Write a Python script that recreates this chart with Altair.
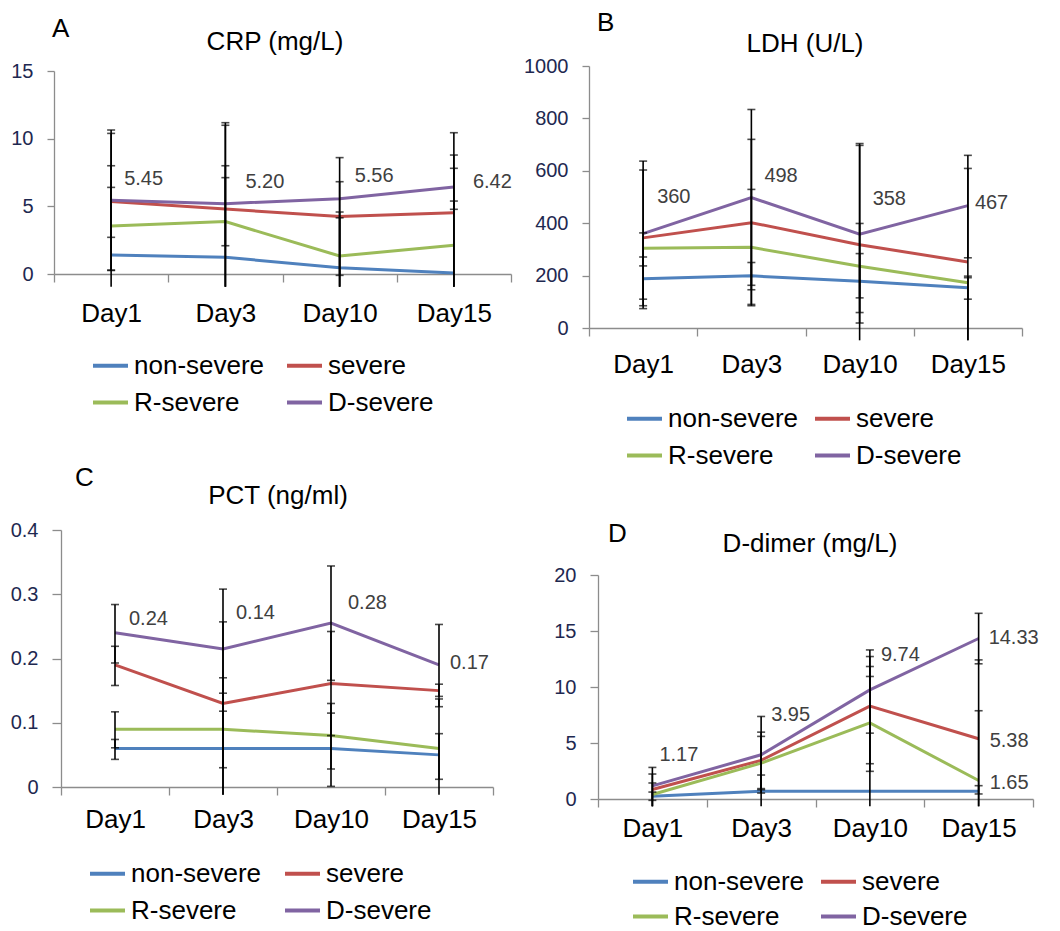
import altair as alt
import pandas as pd

days = ["Day1", "Day3", "Day10", "Day15"]
series = ["non-severe", "severe", "R-severe", "D-severe"]
colors = ["#4F81BD", "#C0504D", "#9BBB59", "#8064A2"]

# ---------------- A: CRP (mg/L) ----------------
crp_mean = {
    "non-severe": [1.40, 1.23, 0.47, 0.07],
    "severe": [5.36, 4.80, 4.24, 4.53],
    "R-severe": [3.55, 3.87, 1.33, 2.12],
    "D-severe": [5.45, 5.20, 5.56, 6.42],
}
crp_lo = {  # None = error bar runs past the axis
    "non-severe": [None, None, None, None],
    "severe": [0.29, None, -0.10, None],
    "R-severe": [2.71, 2.09, None, None],
    "D-severe": [0.26, None, None, 4.78],
}
crp_hi = {
    "non-severe": [6.40, 8.00, 4.15, 5.39],
    "severe": [10.39, 10.99, 6.82, 8.79],
    "R-severe": [8.00, 7.12, 4.58, 7.81],
    "D-severe": [10.64, 11.18, 8.60, 10.44],
}
crp_floor = -0.94
crp_ticks = [0, 5, 10, 15]
crp_labels = [("D-severe", "Day1", "5.45"), ("D-severe", "Day3", "5.20"),
              ("D-severe", "Day10", "5.56"), ("D-severe", "Day15", "6.42")]

# ---------------- B: LDH (U/L) ----------------
ldh_mean = {
    "non-severe": [188, 199, 178, 154],
    "severe": [344, 402, 318, 252],
    "R-severe": [304, 308, 236, 173],
    "D-severe": [360, 498, 358, 467],
}
ldh_lo = {
    "non-severe": [110, 146, 115, 110],
    "severe": [85, 85, None, None],
    "R-severe": [237, 90, 59, None],
    "D-severe": [74, 163, 19, 268],
}
ldh_hi = {
    "non-severe": [271, 250, 284, 198],
    "severe": [603, 720, 697, 609],
    "R-severe": [363, 529, 399, 192],
    "D-severe": [637, 834, 704, 659],
}
ldh_floor = -47
ldh_ticks = [0, 200, 400, 600, 800, 1000]
ldh_labels = [("D-severe", "Day1", "360"), ("D-severe", "Day3", "498"),
              ("D-severe", "Day10", "358"), ("D-severe", "Day15", "467")]

# ---------------- C: PCT (ng/ml) ----------------
pct_mean = {
    "non-severe": [0.06, 0.06, 0.06, 0.05],
    "severe": [0.19, 0.13, 0.161, 0.15],
    "R-severe": [0.09, 0.09, 0.08, 0.06],
    "D-severe": [0.24, 0.215, 0.255, 0.19],
}
pct_lo = {
    "non-severe": [0.043, None, 0.001, 0.012],
    "severe": [0.158, None, 0.080, 0.141],
    "R-severe": [0.061, 0.030, 0.028, None],
    "D-severe": [0.193, 0.118, 0.166, 0.125],
}
pct_hi = {
    "non-severe": [0.074, 0.170, 0.115, 0.083],
    "severe": [0.219, 0.257, 0.242, 0.160],
    "R-severe": [0.117, 0.146, 0.130, 0.137],
    "D-severe": [0.284, 0.308, 0.344, 0.253],
}
pct_floor = -0.012
pct_ticks = [0, 0.1, 0.2, 0.3, 0.4]
pct_labels = [("D-severe", "Day1", "0.24"), ("D-severe", "Day3", "0.14"),
              ("D-severe", "Day10", "0.28"), ("D-severe", "Day15", "0.17")]

# ---------------- D: D-dimer (mg/L) ----------------
dd_mean = {
    "non-severe": [0.25, 0.70, 0.70, 0.70],
    "severe": [0.85, 3.45, 8.30, 5.38],
    "R-severe": [0.40, 3.20, 6.80, 1.65],
    "D-severe": [1.17, 3.95, 9.74, 14.33],
}
dd_lo = {
    "non-severe": [-0.12, None, None, 0.45],
    "severe": [None, 0.93, 3.15, None],
    "R-severe": [None, 0.83, 2.47, None],
    "D-severe": [None, 0.53, 5.88, 12.07],
}
dd_hi = {
    "non-severe": [0.62, 2.14, 10.94, 1.19],
    "severe": [2.23, 5.97, 12.72, 12.42],
    "R-severe": [1.43, 5.59, 11.83, 7.88],
    "D-severe": [2.82, 7.37, 13.31, 16.58],
}
dd_floor = -0.65
dd_ticks = [0, 5, 10, 15, 20]
dd_labels = [("D-severe", "Day1", "1.17"), ("D-severe", "Day3", "3.95"),
             ("D-severe", "Day10", "9.74"), ("D-severe", "Day15", "14.33"),
             ("severe", "Day15", "5.38"), ("R-severe", "Day15", "1.65")]

# ---------------- styling / layout ----------------
FONT = "Liberation Sans"
AX = "#8c8c8c"
NAVY = "#1e2850"
W, H = 520, 455

geo_A = dict(L=46, R=503, T=63, B=266, ytick=7, xlabpad=18, title=(267, 34), letter=(44, 21),
             legend=(83, 338), colpad=14, rowpad=4,
             offs=[(13, -21), (20, -22), (15, -23), (19, -5)])
geo_B = dict(L=61, R=494, T=58, B=320, ytick=7, xlabpad=15, title=(277, 36), letter=(69, 15),
             legend=(97, 391), colpad=8, rowpad=4,
             offs=[(14, -37), (13, -22), (13, -35), (7, -3)])
geo_C = dict(L=53, R=485, T=67, B=324, ytick=9, xlabpad=11, title=(270, 33), letter=(67, 15),
             legend=(80, 391), colpad=15, rowpad=4,
             offs=[(14, -14), (13, -36), (17, -20), (11, -2)])
geo_D = dict(L=70, R=505, T=112, B=336, ytick=8, xlabpad=8, title=(282, 81), letter=(80, 71),
             legend=(103, 399), colpad=8, rowpad=2,
             offs=[(7, -31), (10, -40), (11, -35), (10, -1), (11, 2), (11, 2)])


def make_panel(letter, title, mean, lo, hi, floor, ticks, labels, g):
    rows = []
    for s in series:
        for i, d in enumerate(days):
            l = lo[s][i]
            rows.append({"series": s, "day": d, "value": mean[s][i],
                         "lo": floor if l is None else l, "hi": hi[s][i],
                         "locap": l is not None})
    df = pd.DataFrame(rows)

    xs = alt.Scale(type="band", domain=days, range=[g["L"], g["R"]],
                   paddingInner=0, paddingOuter=0)
    xa = alt.Axis(title=None, orient="bottom", offset=g["B"] - H, tickBand="extent",
                  tickSize=8, labelPadding=g["xlabpad"], labelAngle=0, labelFontSize=26,
                  labelColor="black", domainColor=AX, tickColor=AX, domainWidth=1.3,
                  tickWidth=1.3, grid=False)
    ys = alt.Scale(domain=[ticks[0], ticks[-1]], range=[g["B"], g["T"]], nice=False, zero=False)
    ya = alt.Axis(title=None, values=ticks, format="~r", offset=-g["L"], tickSize=g["ytick"],
                  labelPadding=14, labelFontSize=20, labelColor=NAVY, domainColor=AX,
                  tickColor=AX, domainWidth=1.3, tickWidth=1.3, grid=False)

    def X():
        return alt.X("day:N", sort=days, scale=xs, axis=xa)

    def Y(f):
        return alt.Y(f, scale=ys, axis=ya)

    lines = alt.Chart(df).mark_line(strokeWidth=3).encode(
        x=X(), y=Y("value:Q"),
        color=alt.Color("series:N", scale=alt.Scale(domain=series, range=colors),
                        legend=alt.Legend(orient="none", legendX=g["legend"][0],
                                          legendY=g["legend"][1], columns=2,
                                          direction="horizontal", title=None,
                                          symbolType="stroke", symbolStrokeWidth=4,
                                          symbolSize=1225, labelFontSize=26,
                                          labelColor="black", labelOffset=4,
                                          columnPadding=g["colpad"], rowPadding=g["rowpad"],
                                          padding=0)),
    )
    rules = alt.Chart(df).mark_rule(color="black", strokeWidth=1.6).encode(
        x=X(), y=Y("lo:Q"), y2="hi:Q")
    caps_hi = alt.Chart(df).mark_tick(color="black", size=8, thickness=1.6).encode(
        x=X(), y=Y("hi:Q"))
    caps_lo = alt.Chart(df).transform_filter("datum.locap").mark_tick(
        color="black", size=8, thickness=1.6).encode(x=X(), y=Y("lo:Q"))

    label_layers = []
    for (s, d, t), (dx, dy) in zip(labels, g["offs"]):
        ldf = pd.DataFrame([{"day": d, "value": mean[s][days.index(d)], "t": t}])
        label_layers.append(
            alt.Chart(ldf).mark_text(align="left", baseline="middle", dx=dx, dy=dy,
                                     fontSize=20, color="#404040").encode(
                x=X(), y=Y("value:Q"), text="t:N"))

    title_t = alt.Chart(pd.DataFrame({"t": [title]})).mark_text(
        align="center", baseline="middle", fontSize=26, color="black").encode(
        text="t:N", x=alt.value(g["title"][0]), y=alt.value(g["title"][1]))
    letter_t = alt.Chart(pd.DataFrame({"t": [letter]})).mark_text(
        align="left", baseline="middle", fontSize=26, color="black").encode(
        text="t:N", x=alt.value(g["letter"][0]), y=alt.value(g["letter"][1]))

    return alt.layer(lines, rules, caps_hi, caps_lo, *label_layers, title_t, letter_t
                     ).properties(width=W, height=H)


pA = make_panel("A", "CRP (mg/L)", crp_mean, crp_lo, crp_hi, crp_floor, crp_ticks, crp_labels, geo_A)
pB = make_panel("B", "LDH (U/L)", ldh_mean, ldh_lo, ldh_hi, ldh_floor, ldh_ticks, ldh_labels, geo_B)
pC = make_panel("C", "PCT (ng/ml)", pct_mean, pct_lo, pct_hi, pct_floor, pct_ticks, pct_labels, geo_C)
pD = make_panel("D", "D-dimer (mg/L)", dd_mean, dd_lo, dd_hi, dd_floor, dd_ticks, dd_labels, geo_D)

chart = alt.concat(pA, pB, pC, pD, columns=2, spacing=0, bounds="flush").resolve_scale(
    x="independent", y="independent", color="independent"
).resolve_legend(color="independent").configure_view(strokeWidth=0).configure_text(
    font=FONT).configure_axis(labelFont=FONT).configure_legend(labelFont=FONT).properties(
    padding=0, background="white")

chart.save("out.html", embed_options={"renderer": "svg", "actions": False})
